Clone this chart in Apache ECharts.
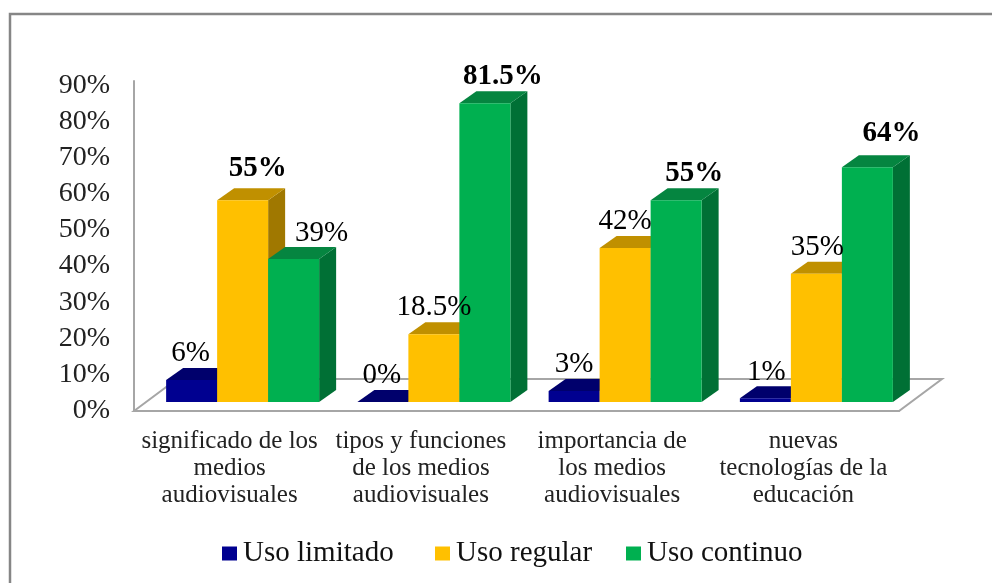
<!DOCTYPE html>
<html>
<head>
<meta charset="utf-8">
<style>html,body{margin:0;padding:0;background:#fff}#c{width:992px;height:583px}</style>
<script src="https://cdn.jsdelivr.net/npm/echarts@6/dist/echarts.min.js"></script>
</head>
<body>
<div id="c"></div>
<script>
const categories = [
  'significado de los\nmedios\naudiovisuales',
  'tipos y funciones\nde los medios\naudiovisuales',
  'importancia de\nlos medios\naudiovisuales',
  'nuevas\ntecnologías de la\neducación'
];
const seriesNames = ['Uso limitado', 'Uso regular', 'Uso continuo'];
const usoLimitado = [6, 0, 3, 1];
const usoRegular = [55, 18.5, 42, 35];
const usoContinuo = [39, 81.5, 55, 64];
const labelLimitado = ['6%', '0%', '3%', '1%'];
const labelRegular = ['55%', '18.5%', '42%', '35%'];
const labelContinuo = ['39%', '81.5%', '55%', '64%'];
const boldLimitado = [false, false, false, false];
const boldRegular = [true, false, false, false];
const boldContinuo = [false, true, true, true];
const tickValues = [0, 10, 20, 30, 40, 50, 60, 70, 80, 90];

const palette = [
  {front: '#000090', top: '#00006c', side: '#000058'},
  {front: '#ffc000', top: '#c09000', side: '#a07800'},
  {front: '#00b050', top: '#058540', side: '#007035'}
];
// data-label nudges in px relative to the centre of each bar's front top edge
const labelNudge = [
  [[-1, -27], [-1, -27], [0, -27], [1, -26]],
  [[15, -32], [0, -27], [0, -27], [1, -26]],
  [[28, -26], [18, -27], [18, -27], [24, -34]]
];
const legendLeft = [222, 435, 626];
const DX = 17, DY = -12;            // bar depth
const PLANE_X = 13, PLANE_Y = -9;   // bars stand mid-way in the floor
const FLOOR_X = 43, FLOOR_Y = -32;  // floor depth
const SERIF = '"Liberation Serif", "Times New Roman", serif';

function barRender(sIdx, values, labels, bolds) {
  return function (params, api) {
    const i = api.value(0);
    const v = api.value(1);
    const band = api.size([1, 0])[0];
    const w = band * 0.8 / 3;
    const base = api.coord([i, 0]);
    const topPt = api.coord([i, v]);
    const x0 = base[0] + PLANE_X + (sIdx - 1.5) * w;
    const x1 = x0 + w;
    const yb = base[1] + PLANE_Y;
    const yt = topPt[1] + PLANE_Y;
    const c = palette[sIdx];
    const poly = (pts, fill) => ({type: 'polygon', shape: {points: pts}, style: {fill: fill}});
    const nudge = labelNudge[sIdx][i];
    return {
      type: 'group',
      children: [
        poly([[x1, yb], [x1 + DX, yb + DY], [x1 + DX, yt + DY], [x1, yt]], c.side),
        poly([[x0, yt], [x1, yt], [x1 + DX, yt + DY], [x0 + DX, yt + DY]], c.top),
        poly([[x0, yb], [x1, yb], [x1, yt], [x0, yt]], c.front),
        {
          type: 'text', z2: 100,
          style: {
            x: (x0 + x1) / 2 + nudge[0], y: yt + nudge[1],
            text: labels[i], align: 'center', verticalAlign: 'middle',
            fontFamily: SERIF, fontSize: 29,
            fontWeight: bolds[i] ? 'bold' : 'normal', fill: '#000'
          }
        }
      ]
    };
  };
}

function floorRender(params, api) {
  const band = api.size([1, 0])[0];
  const first = api.coord([0, 0]);
  const last = api.coord([categories.length - 1, 0]);
  const a = [first[0] - band / 2, first[1]];
  const b = [last[0] + band / 2, last[1]];
  return {
    type: 'polygon',
    shape: {points: [a, [a[0] + FLOOR_X, a[1] + FLOOR_Y], [b[0] + FLOOR_X, b[1] + FLOOR_Y], b]},
    style: {fill: '#fff', stroke: '#a6a6a6', lineWidth: 2}
  };
}

const toSeries = (name, idx, values, labels, bolds) => ({
  name, type: 'custom', xAxisIndex: 0, yAxisIndex: 0, clip: false,
  itemStyle: {color: palette[idx].front},
  renderItem: barRender(idx, values, labels, bolds),
  data: values.map((v, i) => [i, v])
});

const chart = echarts.init(document.getElementById('c'), null, {renderer: 'canvas'});
chart.setOption({
  animation: false,
  backgroundColor: '#fff',
  graphic: [{
    type: 'rect', silent: true, z: -10,
    shape: {x: 10, y: 14, width: 1000, height: 600},
    style: {fill: '#fff', stroke: '#868686', lineWidth: 2.5}
  }],
  legend: seriesNames.map((n, i) => ({
    left: legendLeft[i], top: 534, padding: [5, 0, 5, 0], icon: 'rect', itemWidth: 15, itemHeight: 14,
    data: [n],
    textStyle: {fontFamily: SERIF, fontSize: 29, color: '#111', padding: [0, 0, 0, 1]}
  })),
  grid: [
    {left: 134, top: 81, width: 765, height: 330},
    {left: 134, top: 85.5, width: 765, height: 325}
  ],
  xAxis: [
    {
      type: 'category', gridIndex: 0, data: categories,
      axisLine: {show: true, lineStyle: {color: '#a6a6a6', width: 2}},
      axisTick: {show: false},
      axisLabel: {
        interval: 0, margin: 17, lineHeight: 27,
        fontFamily: SERIF, fontSize: 25, color: '#222'
      }
    },
    {type: 'category', gridIndex: 1, data: categories, show: false}
  ],
  yAxis: [
    {
      type: 'value', gridIndex: 0, min: 0, max: 90, interval: 10,
      axisLine: {show: true, lineStyle: {color: '#a6a6a6', width: 2}},
      axisTick: {show: false}, axisLabel: {show: false}, splitLine: {show: false}
    },
    {
      type: 'value', gridIndex: 1, min: tickValues[0], max: tickValues[tickValues.length - 1], interval: 10,
      axisLine: {show: false}, axisTick: {show: false}, splitLine: {show: false},
      axisLabel: {
        margin: 24, formatter: '{value}%',
        fontFamily: SERIF, fontSize: 28, color: '#222'
      }
    }
  ],
  series: [
    {
      type: 'custom', name: 'floor', xAxisIndex: 0, yAxisIndex: 0, clip: false, silent: true,
      renderItem: floorRender, data: [[0, 0]]
    },
    toSeries(seriesNames[0], 0, usoLimitado, labelLimitado, boldLimitado),
    toSeries(seriesNames[1], 1, usoRegular, labelRegular, boldRegular),
    toSeries(seriesNames[2], 2, usoContinuo, labelContinuo, boldContinuo)
  ]
});
</script>
</body>
</html>
